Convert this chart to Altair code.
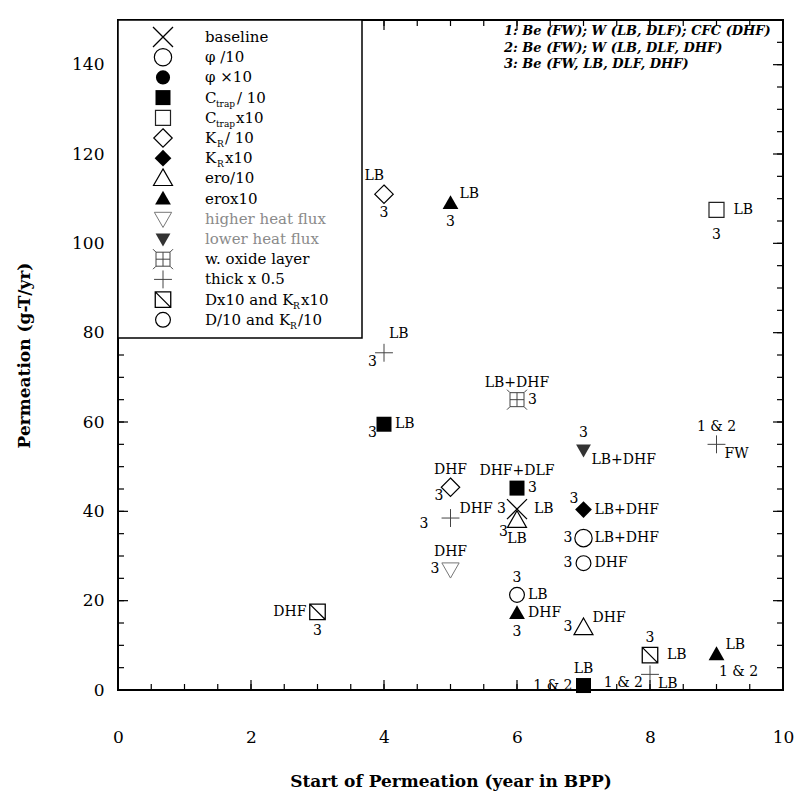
import altair as alt
import pandas as pd
import numpy as np

# ---------------- data ----------------
pt_x = [4, 5, 9, 4, 6, 4, 7, 9, 6, 5, 7, 5, 6, 6, 7, 7, 5, 6, 6, 7, 3, 8, 8, 9, 7]
pt_y = [111, 109, 107.5, 75.5, 65, 59.5, 53.7, 55, 45.2, 45.4, 40.4, 38.5, 40.5, 38, 34, 28.4, 27, 21.3, 17.2, 14, 17.5, 7.8, 3.5, 8, 1]
pt_kind = ['kr_div', 'ero_mul', 'ctrap_mul', 'thick', 'oxide', 'ctrap_div', 'lhf', 'thick',
           'ctrap_div', 'kr_div', 'kr_mul', 'thick', 'baseline', 'ero_div', 'phi_div', 'd10',
           'hhf', 'd10', 'ero_mul', 'ero_div', 'dx10', 'dx10', 'thick', 'ero_mul', 'ctrap_div']

lab_pt = [0, 0, 1, 1, 2, 2, 3, 3, 4, 4, 5, 5, 6, 6, 7, 7, 8, 8, 9, 9, 10, 10, 11, 11, 12, 12,
          13, 13, 14, 14, 15, 15, 16, 16, 17, 17, 18, 18, 19, 19, 20, 20, 21, 21, 22, 22, 23, 23, 24, 24]
lab_text = ['LB', '3', 'LB', '3', 'LB', '3', 'LB', '3', 'LB+DHF', '3', 'LB', '3', '3', 'LB+DHF',
            '1 & 2', 'FW', 'DHF+DLF', '3', 'DHF', '3', '3', 'LB+DHF', 'DHF', '3', '3', 'LB',
            '3', 'LB', '3', 'LB+DHF', '3', 'DHF', 'DHF', '3', '3', 'LB', 'DHF', '3', 'DHF', '3',
            'DHF', '3', '3', 'LB', '1 & 2', 'LB', 'LB', '1 & 2', 'LB', '1 & 2']
lab_pos = ['NW', 'S', 'NE', 'S', 'E2', 'S2', 'N_E', 'SW', 'N', 'E', 'E', 'SW', 'N', 'SE',
           'N', 'SE', 'N', 'E', 'N', 'SW', 'nw', 'E', 'NE', 'W2', 'W', 'E2',
           'SW2', 'S', 'W', 'E', 'W', 'E', 'N', 'W', 'N', 'E', 'E', 'S', 'NE', 'W',
           'W', 'S', 'N', 'E2', 'SW', 'SE', 'NE', 'S_E', 'N', 'W']

legend_kinds = ['baseline', 'phi_div', 'phi_mul', 'ctrap_div', 'ctrap_mul', 'kr_div', 'kr_mul',
                'ero_div', 'ero_mul', 'hhf', 'lhf', 'oxide', 'thick', 'dx10', 'd10']

note_lines = ['1: Be (FW); W (LB, DLF); CFC (DHF)',
              '2: Be (FW); W (LB, DLF, DHF)',
              '3: Be (FW, LB, DLF, DHF)']

x_tick_labels = [0, 2, 4, 6, 8, 10]
y_tick_labels = [0, 20, 40, 60, 80, 100, 120, 140]

# ---------------- layout ----------------
W, H = 665, 670
X_DOM, Y_DOM = [0, 10], [0, 150]
SERIF = 'DejaVu Serif'

STYLE = {
    'baseline':  dict(shape='M-1,-1L1,1M-1,1L1,-1', filled=False, size=400, strokeWidth=1.3, color='black'),
    'phi_div':   dict(shape='circle', filled=False, size=300, strokeWidth=1.2, color='black'),
    'phi_mul':   dict(shape='circle', filled=True, size=200, strokeWidth=1, color='black'),
    'ctrap_div': dict(shape='square', filled=True, size=225, strokeWidth=1, color='black'),
    'ctrap_mul': dict(shape='square', filled=False, size=225, strokeWidth=1.2, color='#222'),
    'kr_div':    dict(shape='M0,-1L1,0L0,1L-1,0Z', filled=False, size=340, strokeWidth=1.2, color='black'),
    'kr_mul':    dict(shape='M0,-1L1,0L0,1L-1,0Z', filled=True, size=280, strokeWidth=1, color='black'),
    'ero_div':   dict(shape='M0,-1L1,0.75L-1,0.75Z', filled=False, size=360, strokeWidth=1.2, color='black'),
    'ero_mul':   dict(shape='M0,-1L1,0.75L-1,0.75Z', filled=True, size=250, strokeWidth=1, color='black'),
    'hhf':       dict(shape='M0,1L1,-0.75L-1,-0.75Z', filled=False, size=300, strokeWidth=1, color='#777'),
    'lhf':       dict(shape='M0,1L1,-0.75L-1,-0.75Z', filled=True, size=220, strokeWidth=1, color='#333'),
    'oxide':     dict(shape='M-0.7,-0.7H0.7V0.7H-0.7Z M0,-0.7V0.7 M-0.7,0H0.7 M-1,-1L-0.7,-0.7 M1,-1L0.7,-0.7 M-1,1L-0.7,0.7 M1,1L0.7,0.7',
                      filled=False, size=400, strokeWidth=1, color='#444'),
    'thick':     dict(shape='M-1,0L1,0M0,-1L0,1', filled=False, size=320, strokeWidth=1, color='#444'),
    'dx10':      dict(shape='M-1,-1H1V1H-1Z M-1,-1L1,1', filled=False, size=240, strokeWidth=1.3, color='black'),
    'd10':       dict(shape='circle', filled=False, size=220, strokeWidth=1.2, color='black'),
}

POS = {
    'N': (0, -17, 'center'), 'S': (0, 19, 'center'), 'S2': (0, 25, 'center'), 'E': (11, 0, 'left'),
    'E2': (17, 0, 'left'), 'W': (-11, 0, 'right'), 'W2': (-22, 6, 'right'), 'NE': (9, -9, 'left'),
    'NW': (0, -18, 'right'), 'nw': (-5, -11, 'right'), 'N_E': (5, -19, 'left'), 'SW': (-7, 9, 'right'),
    'SW2': (-9, 12, 'right'), 'SE': (8, 10, 'left'), 'S_E': (22, 18, 'center'),
}

xs = alt.Scale(domain=X_DOM, nice=False, zero=False)
ys = alt.Scale(domain=Y_DOM, nice=False, zero=False)

AX_X = alt.Axis(values=x_tick_labels, format='d', ticks=False, tickSize=0, domain=False, grid=False,
                labelPadding=39, labelFlush=False, labelFont=SERIF, labelFontSize=17, labelColor='black',
                title='Start of Permeation  (year in BPP)', titleFont=SERIF, titleFontSize=17,
                titleFontWeight='bold', titleColor='black', titlePadding=28)
AX_Y = alt.Axis(values=y_tick_labels, format='d', ticks=False, tickSize=0, domain=False, grid=False,
                labelPadding=14, labelFlush=False, labelFont=SERIF, labelFontSize=17, labelColor='black',
                title='Permeation  (g-T/yr)', titleFont=SERIF, titleFontSize=17,
                titleFontWeight='bold', titleColor='black', titlePadding=38)


def X(field):
    return alt.X(field, scale=xs, axis=AX_X)


def Y(field):
    return alt.Y(field, scale=ys, axis=AX_Y)


pts = pd.DataFrame({'x': pt_x, 'y': pt_y, 'kind': pt_kind})
labs = pd.DataFrame({'x': [pt_x[i] for i in lab_pt], 'y': [pt_y[i] for i in lab_pt],
                     'txt': lab_text, 'pos': lab_pos})

layers = []

# inward ticks on all four sides (drawn from tick-value tables through the scales)
def vticks(vals, length, top):
    df = pd.DataFrame({'x': vals})
    if top:
        yy, yy2 = alt.value(0), alt.value(length)
    else:
        yy, yy2 = alt.value(H), alt.value(H - length)
    return alt.Chart(df).mark_rule(color='black', strokeWidth=1.2).encode(x=X('x:Q'), y=yy, y2=yy2)


def hticks(vals, length, right):
    df = pd.DataFrame({'y': vals})
    if right:
        xx, xx2 = alt.value(W), alt.value(W - length)
    else:
        xx, xx2 = alt.value(0), alt.value(length)
    return alt.Chart(df).mark_rule(color='black', strokeWidth=1.2).encode(y=Y('y:Q'), x=xx, x2=xx2)


x_minor = np.arange(0.5, 10, 0.5)
x_major = np.arange(2, 10, 2)
y_minor = np.arange(5, 150, 5)
y_major = np.arange(20, 150, 20)
for top in (False, True):
    layers.append(vticks(x_minor, 6, top))
    layers.append(vticks(x_major, 10, top))
for right in (False, True):
    layers.append(hticks(y_minor, 6, right))
    layers.append(hticks(y_major, 10, right))

# legend box (drawn before points)
layers.append(alt.Chart(pd.DataFrame({'a': [0]})).mark_rect(fill='white', stroke='black', strokeWidth=1.5).encode(
    x=alt.value(0), x2=alt.value(244), y=alt.value(0), y2=alt.value(318)))

# data markers
for kind, st in STYLE.items():
    sub = pts[pts.kind == kind]
    if len(sub) == 0:
        continue
    layers.append(alt.Chart(sub).mark_point(opacity=1, **st).encode(x=X('x:Q'), y=Y('y:Q')))

# point annotations
for code, (dx, dy, al) in POS.items():
    sub = labs[labs.pos == code]
    if len(sub) == 0:
        continue
    layers.append(alt.Chart(sub).mark_text(dx=dx, dy=dy, align=al, baseline='middle', font=SERIF,
                                           fontSize=14, color='black').encode(
        x=X('x:Q'), y=Y('y:Q'), text='txt:N'))

# legend symbols and texts
row_y = [17 + i * 20.2 for i in range(len(legend_kinds))]
for i, kind in enumerate(legend_kinds):
    st = STYLE[kind]
    layers.append(alt.Chart(pd.DataFrame({'a': [0]})).mark_point(opacity=1, **st).encode(
        x=alt.value(45), y=alt.value(row_y[i])))

pieces = [
    (0, 'baseline', 87, 15, 0), (1, 'φ /10', 87, 15, 0), (2, 'φ ×10', 87, 15, 0),
    (3, 'C', 87, 15, 0), (3, 'trap', 98, 9, 6), (3, '/ 10', 119, 15, 0),
    (4, 'C', 87, 15, 0), (4, 'trap', 98, 9, 6), (4, 'x10', 118, 15, 0),
    (5, 'K', 87, 15, 0), (5, 'R', 99, 9, 6), (5, '/ 10', 107, 15, 0),
    (6, 'K', 87, 15, 0), (6, 'R', 99, 9, 6), (6, 'x10', 107, 15, 0),
    (7, 'ero/10', 87, 15, 0), (8, 'erox10', 87, 15, 0),
    (9, 'higher heat flux', 87, 15, 0), (10, 'lower heat flux', 87, 15, 0),
    (11, 'w. oxide layer', 87, 15, 0), (12, 'thick x 0.5', 87, 15, 0),
    (13, 'Dx10 and K', 87, 15, 0), (13, 'R', 175, 9, 6), (13, 'x10', 183, 15, 0),
    (14, 'D/10 and K', 87, 15, 0), (14, 'R', 172, 9, 6), (14, '/10', 180, 15, 0),
]
for row, txt, px, fs, off in pieces:
    col = '#8a8a8a' if row in (9, 10) else 'black'
    layers.append(alt.Chart(pd.DataFrame({'a': [0]})).mark_text(
        align='left', baseline='middle', font=SERIF, fontSize=fs, color=col).encode(
        x=alt.value(px), y=alt.value(row_y[row] + off), text=alt.value(txt)))

# top-right note
for i, line in enumerate(note_lines):
    layers.append(alt.Chart(pd.DataFrame({'a': [0]})).mark_text(
        align='left', baseline='middle', font=SERIF, fontSize=13, fontStyle='italic', fontWeight='bold',
        color='black').encode(x=alt.value(386), y=alt.value(11 + i * 16.5), text=alt.value(line)))

chart = alt.layer(*layers).properties(
    width=W, height=H,
    padding={'left': 110, 'top': 12, 'right': 12, 'bottom': 104},
    autosize=alt.AutoSizeParams(type='none'),
    background='white',
).configure_view(stroke='black', strokeWidth=2)

chart.save('out.html', embed_options={'renderer': 'svg', 'actions': False})
